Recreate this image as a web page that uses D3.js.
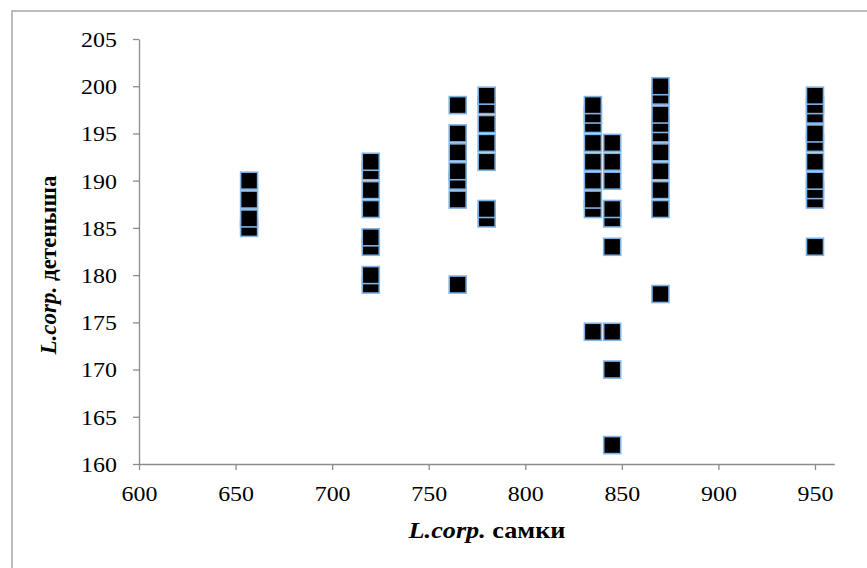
<!DOCTYPE html>
<html>
<head>
<meta charset="utf-8">
<script src="https://cdn.jsdelivr.net/npm/d3@7"></script>
<style>
  html, body { margin: 0; padding: 0; background: #fff; }
  svg { display: block; }
</style>
</head>
<body>
<svg id="chart" width="867" height="568"></svg>
<script>
// Female body length (x) and pup body length (y)
const femaleLength = [
  657, 657, 657, 657,
  720, 720, 720, 720, 720, 720, 720, 720,
  765, 765, 765, 765, 765, 765, 765,
  780, 780, 780, 780, 780, 780, 780,
  835, 835, 835, 835, 835, 835, 835, 835, 835,
  845, 845, 845, 845, 845, 845, 845, 845, 845,
  870, 870, 870, 870, 870, 870, 870, 870, 870, 870,
  950, 950, 950, 950, 950, 950, 950, 950, 950, 950
];
const pupLength = [
  185, 186, 188, 190,
  179, 180, 183, 184, 187, 189, 191, 192,
  179, 188, 190, 191, 193, 195, 198,
  186, 187, 192, 194, 196, 198, 199,
  174, 187, 188, 190, 192, 194, 196, 197, 198,
  162, 170, 174, 183, 186, 187, 190, 192, 194,
  178, 187, 189, 191, 193, 195, 196, 197, 199, 200,
  183, 188, 189, 190, 192, 194, 195, 197, 198, 199
];
const xTicks = [600, 650, 700, 750, 800, 850, 900, 950];
const yTicks = [160, 165, 170, 175, 180, 185, 190, 195, 200, 205];

const svg = d3.select("#chart");
const stretch = 1.14;

// chart frame
svg.append("rect")
  .attr("x", 12).attr("y", 11)
  .attr("width", 900).attr("height", 620)
  .attr("fill", "none").attr("stroke", "#a6a6a6").attr("stroke-width", 1.5);

const x = d3.scaleLinear().domain([600, 960]).range([139, 834.3]);
const y = d3.scaleLinear().domain([160, 205]).range([464, 39]);

const axisColor = "#8c8c8c";
const font = "'Liberation Serif', 'Times New Roman', serif";

// X axis
const xAxis = svg.append("g")
  .attr("transform", "translate(0,464)")
  .call(d3.axisBottom(x).tickValues(xTicks).tickSize(6).tickSizeOuter(0).tickPadding(16));
// Y axis
const yAxis = svg.append("g")
  .attr("transform", "translate(139,0)")
  .call(d3.axisLeft(y).tickValues(yTicks).tickSize(6).tickSizeOuter(0).tickPadding(16));

[xAxis, yAxis].forEach(g => {
  g.selectAll("path, line").attr("stroke", axisColor).attr("stroke-width", 1.3);
  g.selectAll("text")
    .attr("fill", "#000")
    .style("font-family", font)
    .style("font-size", "21px");
});
yAxis.selectAll("text")
  .attr("dy", "0.35em")
  .attr("x", 0)
  .attr("transform", `translate(-22,0) scale(${stretch},1)`);
xAxis.selectAll("text")
  .attr("y", 0)
  .attr("transform", `translate(0,22) scale(${stretch},1)`);

// Points
const size = 17;
svg.append("g")
  .selectAll("rect")
  .data(femaleLength.map((v, i) => ({ x: v, y: pupLength[i] })))
  .join("rect")
  .attr("x", d => x(d.x) - size / 2)
  .attr("y", d => y(d.y) - size / 2)
  .attr("width", size)
  .attr("height", size)
  .attr("fill", "#000")
  .attr("stroke", "#7fb2e5")
  .attr("stroke-width", 1.6);

// Axis titles
const xt = svg.append("text")
  .attr("transform", `translate(487,538) scale(${stretch},1)`)
  .attr("text-anchor", "middle")
  .style("font-family", font)
  .style("font-size", "23px")
  .style("font-weight", "bold");
xt.append("tspan").style("font-style", "italic").text("L.corp.");
xt.append("tspan").text(" самки");

const yt = svg.append("text")
  .attr("transform", "translate(56,265) rotate(-90)")
  .attr("text-anchor", "middle")
  .style("font-family", font)
  .style("font-size", "23px")
  .style("font-weight", "bold");
yt.append("tspan").style("font-style", "italic").text("L.corp.");
yt.append("tspan").text(" детеныша");
</script>
</body>
</html>
